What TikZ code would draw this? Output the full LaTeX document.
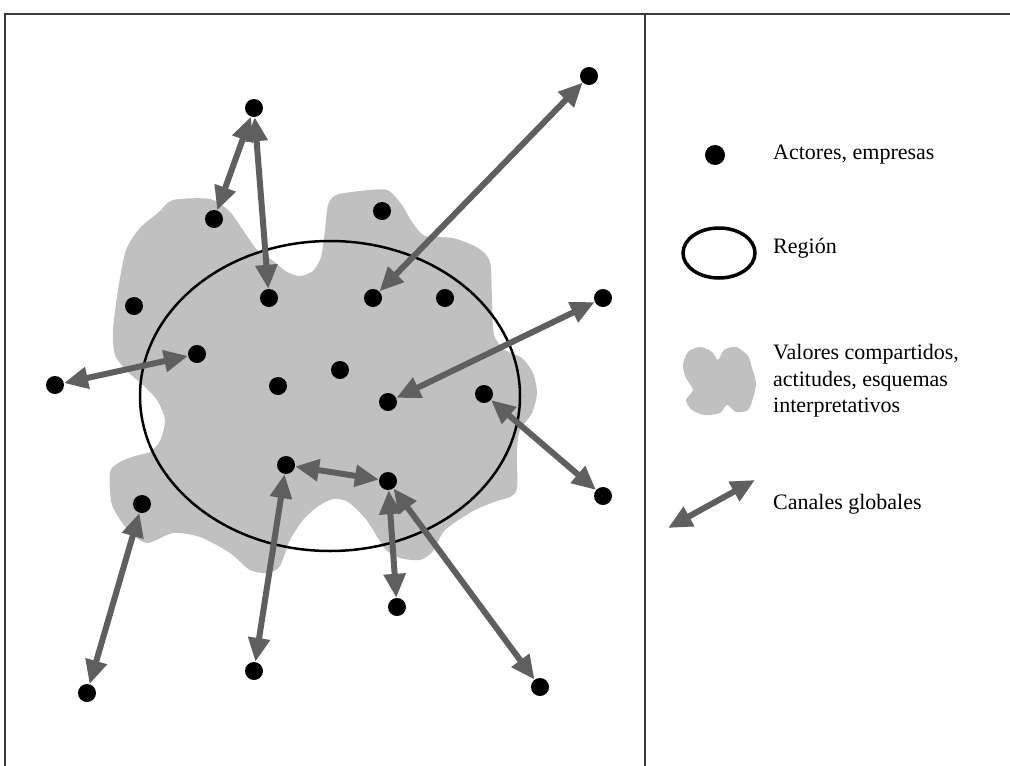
\documentclass[tikz,border=0pt]{standalone}
\usepackage{fontspec}
\setmainfont{Liberation Serif}
\usetikzlibrary{arrows.meta,shapes.geometric}
\definecolor{arrowgray}{RGB}{95,95,95}
\definecolor{blobgray}{RGB}{192,192,192}
\definecolor{framegray}{RGB}{60,60,60}
\tikzset{
  actor/.style={circle,fill=black,minimum size=18pt,inner sep=0pt},
  canal/.style={draw=arrowgray,line width=6pt,
     {Triangle[length=24pt,width=21pt]}-{Triangle[length=24pt,width=21pt]}},
  legtext/.style={anchor=west,inner sep=0pt,align=left,font=\fontsize{22}{26.5}\selectfont},
  blob/.style={fill=blobgray,draw=none}
}
\begin{document}
\begin{tikzpicture}[x=1pt,y=-1pt]
\useasboundingbox[fill=white] (0,0) rectangle (1010,766);
% frame
\draw[framegray,line width=2pt] (5,766) -- (5,14) -- (1010,14);
\draw[framegray,line width=2pt] (645,14) -- (645,766);
% shared values blob
\path[blob] plot[smooth cycle,tension=0.45] coordinates {
 (173,200) (210,199) (230,212) (247,236) (258,251) (272,260) (287,272) (300,276)
 (313,271) (321,257) (325,230) (328,205) (336,195) (360,191) (387,190) (402,205)
 (412,222) (425,236) (453,238) (478,248) (490,262) (492,300) (494,335) (505,350)
 (522,358) (533,373) (537,393) (532,413) (520,430) (517,450) (517,488) (510,497)
 (497,501) (473,511) (445,530) (433,551) (420,560) (400,558) (386,550) (378,538)
 (365,518) (348,502) (333,499) (317,507) (303,520) (290,540) (280,566) (268,573)
 (250,570) (230,553) (200,537) (173,533) (147,543) (128,530) (112,505) (110,472)
 (120,462) (135,456) (150,452) (160,441) (165,420) (157,400) (143,385) (128,372)
 (115,355) (113,330) (118,290) (126,250) (140,228) (158,213)};
% region
\draw[black,line width=2.5pt] (330,396) ellipse [x radius=190, y radius=155];
% actors
\node[actor] (A) at (254,108) {};
\node[actor] (B) at (214,219) {};
\node[actor] (C) at (382,211) {};
\node[actor] (D) at (589,76) {};
\node[actor] (E) at (134,306) {};
\node[actor] (F) at (269,298) {};
\node[actor] (G) at (373,298) {};
\node[actor] (H) at (445,298) {};
\node[actor] (I) at (603,298) {};
\node[actor] (J) at (197,354) {};
\node[actor] (K) at (55,385) {};
\node[actor] (L) at (278,386) {};
\node[actor] (M) at (340,370) {};
\node[actor] (N) at (388,402) {};
\node[actor] (O) at (484,394) {};
\node[actor] (P) at (603,496) {};
\node[actor] (Q) at (286,465) {};
\node[actor] (R) at (388,481) {};
\node[actor] (S) at (142,504) {};
\node[actor] (T) at (397,607) {};
\node[actor] (U) at (254,671) {};
\node[actor] (V) at (540,687) {};
\node[actor] (W) at (87,693) {};
% global channels
\draw[canal] (A) -- (B);
\draw[canal] (A) -- (F);
\draw[canal] (D) -- (G);
\draw[canal] (K) -- (J);
\draw[canal] (I) -- (N);
\draw[canal] (O) -- (P);
\draw[canal] (Q) -- (R);
\draw[canal] (S) -- (W);
\draw[canal] (Q) -- (U);
\draw[canal] (R) -- (T);
\draw[canal] (R) -- (V);
% legend
\node[actor,minimum size=20pt] (legdot) at (715,155) {};
\node[legtext] (t1) at (773,155) {Actores, empresas};
\node[draw=black,line width=3.5pt,ellipse,minimum width=72pt,minimum height=50pt,inner sep=0pt] (legell) at (719,253) {};
\node[legtext] (t2) at (773,248) {Región};
\path[blob] plot[smooth cycle,tension=0.5] coordinates {
 (688,352) (700,347) (712,352) (718,360) (724,350) (736,347) (748,356) (752,368)
 (756,383) (753,398) (748,410) (736,412) (727,405) (720,413) (705,415) (692,410)
 (686,400) (693,390) (686,378) (683,365)};
\node[legtext] (t3) at (773,381) {Valores compartidos,\\actitudes, esquemas\\interpretativos};
\coordinate (la) at (668,528);
\coordinate (lb) at (755,480);
\draw[canal] (la) -- (lb);
\node[legtext] (t4) at (773,504) {Canales globales};
\end{tikzpicture}
\end{document}
